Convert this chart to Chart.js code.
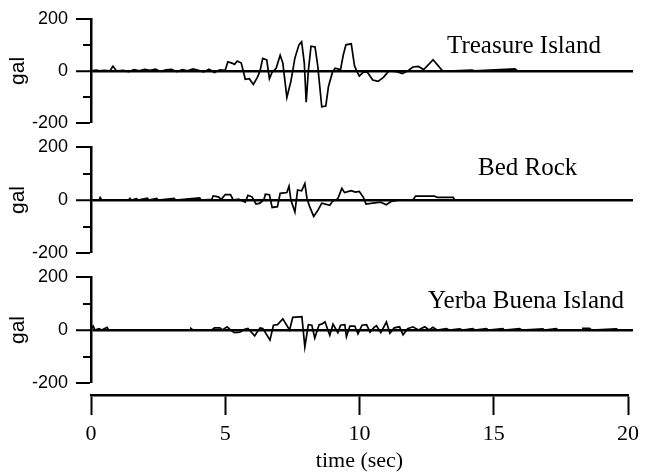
<!DOCTYPE html>
<html>
<head>
<meta charset="utf-8">
<script src="https://cdn.jsdelivr.net/npm/chart.js@4/dist/chart.umd.min.js"></script>
<style>
  body { margin: 0; background: #fff; }
  #wrap { position: relative; width: 648px; height: 475px; }
  #wrap canvas { position: absolute; left: 0; top: 0; }
</style>
</head>
<body>
<div id="wrap">
  <canvas id="c1" width="648" height="475"></canvas>
  <canvas id="c2" width="648" height="475"></canvas>
  <canvas id="c3" width="648" height="475"></canvas>
  <canvas id="cx" width="648" height="475"></canvas>
</div>
<script>
// time (sec) and acceleration (gal)
const tTreasure = [0,0.2,0.3,0.5,0.7,0.82,0.95,1.2,1.4,1.6,1.8,2.0,2.2,2.4,2.6,2.8,3.0,3.2,3.4,3.6,3.8,4.0,4.2,4.4,4.6,4.8,5.0,5.1,5.25,5.35,5.45,5.6,5.75,5.9,6.05,6.2,6.3,6.4,6.55,6.65,6.75,6.9,7.05,7.15,7.3,7.45,7.6,7.75,7.85,7.95,8.02,8.1,8.2,8.35,8.45,8.6,8.75,8.85,9.0,9.1,9.3,9.4,9.5,9.7,9.82,9.9,10.0,10.15,10.3,10.5,10.7,10.9,11.1,11.4,11.6,11.8,12.0,12.2,12.4,12.75,13.1,13.5,14.2,14.3,15.8,15.9,20];
const gTreasure = [0,3,0,2,0,18,0,2,-3,5,0,6,2,7,-2,4,6,-3,5,0,8,2,-4,6,-6,4,2,35,30,25,38,30,-32,-30,-52,-25,0,48,42,-30,-5,10,60,30,-102,-40,50,100,112,30,-120,0,95,92,20,-138,-135,-60,-5,10,5,60,100,104,20,0,-20,-5,-5,-35,-40,-25,0,-3,-10,0,15,17,5,43,0,0,3,0,8,0,0];

const tBedRock = [0,0.3,0.34,0.4,1.4,1.45,1.5,1.7,1.75,2.1,2.15,2.45,2.5,3.1,3.15,4.05,4.1,4.5,4.55,4.75,4.85,5.0,5.2,5.3,5.5,5.75,5.85,6.0,6.15,6.3,6.45,6.5,6.65,6.75,6.95,7.05,7.3,7.38,7.45,7.6,7.7,7.85,7.97,8.05,8.15,8.3,8.45,8.6,8.9,9.0,9.2,9.35,9.45,9.7,9.85,10.0,10.15,10.25,10.5,10.8,11.0,11.2,11.5,12.0,12.1,12.8,12.9,13.5,13.55,20];
const gBedRock = [0,0,9,0,0,6,0,5,0,7,0,6,0,6,0,8,0,2,15,12,2,20,20,0,3,-8,18,12,-15,-12,3,22,20,-28,-25,25,28,52,0,-45,38,35,62,5,-25,-62,-40,-12,-20,-5,5,44,28,35,30,32,10,-15,-12,-8,-18,-5,0,0,15,15,10,10,0,0];

const tYerba = [0,0.08,0.15,0.3,0.4,0.6,0.65,3.7,3.72,3.8,4.5,4.6,4.8,4.9,5.07,5.2,5.35,5.55,5.7,5.85,6.1,6.3,6.4,6.67,6.8,6.95,7.15,7.4,7.52,7.86,7.97,8.1,8.23,8.34,8.5,8.6,8.72,8.9,9.02,9.2,9.3,9.46,9.52,9.65,9.83,9.95,10.1,10.27,10.4,10.55,10.64,10.8,11.01,11.14,11.3,11.5,11.63,11.8,12.0,12.2,12.44,12.6,12.74,12.9,13.25,13.35,13.74,13.85,14.23,14.3,14.74,14.8,15.35,15.4,15.98,16.05,16.84,16.9,17.34,17.4,18.3,18.33,18.58,18.65,19.58,19.65,20];
const gYerba = [0,15,0,5,0,10,0,0,6,0,0,8,8,0,12,0,-10,-8,2,6,-22,8,6,-38,18,20,42,0,48,50,-64,20,18,-30,20,22,31,-20,22,-10,18,20,-25,15,15,-15,18,20,-8,10,16,-10,30,-12,8,12,-18,5,12,0,12,0,10,0,5,0,4,0,5,0,5,0,5,0,5,0,4,0,5,0,0,6,6,0,4,0,0];

const xTicks = [0, 5, 10, 15, 20];
const yTicks = [-200, -100, 0, 100, 200];
const yLabels = [-200, 0, 200];

const serif = '"Liberation Serif", "Times New Roman", serif';
const sans = '"Liberation Sans", Arial, sans-serif';

// draws the station name inside a panel
const panelLabel = {
  id: 'panelLabel',
  afterDraw(chart, args, opts) {
    const c = chart.ctx;
    c.save();
    c.font = '25px ' + serif;
    c.fillStyle = '#000';
    c.textBaseline = 'alphabetic';
    c.fillText(opts.text, opts.x, opts.y);
    c.restore();
  }
};

function toPoints(ts, gs) {
  return ts.map((t, i) => ({x: t, y: gs[i]}));
}

function panel(id, ts, gs, name, top, bottom, lx, ly) {
  new Chart(document.getElementById(id), {
    type: 'line',
    data: {
      datasets: [{
        data: toPoints(ts, gs),
        borderColor: '#000',
        borderWidth: 1.7,
        pointRadius: 0,
        tension: 0
      }]
    },
    options: {
      responsive: false,
      animation: false,
      layout: { padding: { left: 0, right: 15, top: top, bottom: bottom } },
      plugins: {
        legend: { display: false },
        tooltip: { enabled: false },
        panelLabel: { text: name, x: lx, y: ly }
      },
      scales: {
        x: { type: 'linear', min: 0, max: 20.2, display: false },
        y: {
          min: -200, max: 200,
          afterFit: s => { s.width = 91; },
          afterBuildTicks: s => { s.ticks = yTicks.map(v => ({value: v})); },
          ticks: {
            color: '#000',
            padding: 8,
            font: { family: sans, size: 18 },
            callback: v => yLabels.includes(v) ? String(v) : ''
          },
          grid: {
            drawOnChartArea: true,
            color: ctx => ctx.tick && ctx.tick.value === 0 ? '#000' : 'rgba(0,0,0,0)',
            lineWidth: ctx => ctx.tick && ctx.tick.value === 0 ? 2.5 : 0,
            tickColor: '#000',
            tickWidth: 2,
            tickLength: 15,
            tickBorderDash: ctx => ctx.tick && yLabels.includes(ctx.tick.value) ? [] : [0, 7, 8, 100]
          },
          border: { color: '#000', width: 2.5 },
          title: {
            display: true,
            text: 'gal',
            color: '#000',
            font: { family: sans, size: 21 },
            padding: { top: 6, bottom: 0 }
          }
        }
      }
    },
    plugins: [panelLabel]
  });
}

panel('c1', tTreasure, gTreasure, 'Treasure Island', 16, 352, 447, 53);
panel('c2', tBedRock, gBedRock, 'Bed Rock', 147, 222, 478, 175);
panel('c3', tYerba, gYerba, 'Yerba Buena Island', 277, 92, 428, 308);

// shared time axis under the three panels
new Chart(document.getElementById('cx'), {
  type: 'line',
  data: { datasets: [{ data: [] }] },
  options: {
    responsive: false,
    animation: false,
    layout: { padding: { left: 91, right: 20, top: 380, bottom: 0 } },
    plugins: { legend: { display: false }, tooltip: { enabled: false } },
    scales: {
      y: { display: false, min: 0, max: 1 },
      x: {
        type: 'linear', min: 0, max: 20,
        afterFit: s => { s.height = 80; },
        afterBuildTicks: s => { s.ticks = xTicks.map(v => ({value: v})); },
        ticks: {
          color: '#000',
          padding: 6,
          maxRotation: 0,
          font: { family: serif, size: 22 }
        },
        grid: {
          drawOnChartArea: false,
          color: '#000',
          tickColor: '#000',
          tickWidth: 2,
          tickLength: 20
        },
        border: { color: '#000', width: 2.5 },
        title: {
          display: true,
          text: 'time (sec)',
          color: '#000',
          font: { family: serif, size: 22 },
          padding: { top: 0, bottom: 1 }
        }
      }
    }
  }
});
</script>
</body>
</html>
